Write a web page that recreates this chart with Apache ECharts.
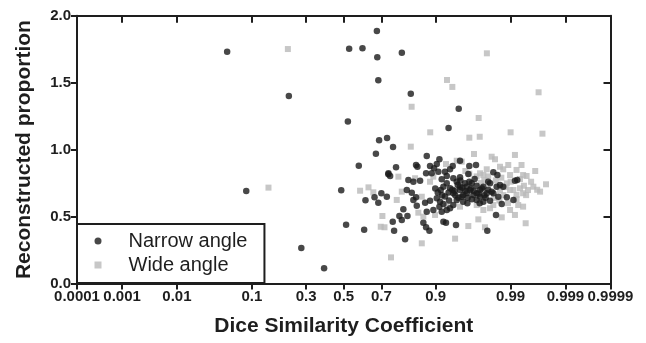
<!DOCTYPE html>
<html>
<head>
<meta charset="utf-8">
<script src="https://cdn.jsdelivr.net/npm/echarts@6/dist/echarts.min.js"></script>
<style>
  html, body { margin: 0; padding: 0; background: #fff; }
  #chart { width: 646px; height: 343px; }
</style>
</head>
<body>
<div id="chart"></div>
<script>
// Probability-scale tick marks on the Dice axis
const diceTicks = [0.0001, 0.001, 0.01, 0.1, 0.3, 0.5, 0.7, 0.9, 0.99, 0.999, 0.9999];
const diceTickLabels = ['0.0001', '0.001', '0.01', '0.1', '0.3', '0.5', '0.7', '0.9', '0.99', '0.999', '0.9999'];
const ratioTicks = [0, 0.5, 1.0, 1.5, 2.0];

// [Dice similarity coefficient, reconstructed proportion]
const narrowAngle = [
  [0.052,1.73],[0.087,0.69],[0.222,1.40],[0.277,0.265],[0.392,0.113],[0.486,0.696],[0.513,0.439],
  [0.523,1.21],[0.530,1.754],[0.583,0.88],[0.603,1.756],[0.612,0.402],[0.619,0.621],[0.666,0.644],
  [0.673,0.969],[0.678,1.886],[0.680,1.689],[0.685,1.517],[0.685,0.603],[0.689,1.069],[0.700,0.674],
  [0.726,0.648],[0.727,1.087],[0.733,0.816],[0.754,1.019],[0.791,1.724],[0.825,1.418],[0.928,1.161],
  [0.9455,1.305],
  [0.8764,0.952],[0.9088,0.928],[0.9027,0.892],[0.8433,0.885],[0.8478,0.872],[0.8855,0.877],[0.896,0.860],
  [0.767,0.868],[0.7334,0.823],[0.741,0.803],[0.8745,0.823],[0.890,0.823],[0.9064,0.835],[0.921,0.835],
  [0.9308,0.853],[0.9356,0.877],[0.9475,0.917],[0.960,0.877],[0.9674,0.885],[0.9815,0.830],[0.9839,0.810],
  [0.9588,0.818],[0.9367,0.786],[0.9475,0.793],[0.9245,0.803],[0.914,0.778],[0.8162,0.773],[0.8342,0.760],
  [0.8564,0.768],[0.8103,0.698],[0.8285,0.678],[0.8433,0.644],[0.8342,0.624],[0.8716,0.603],[0.8855,0.618],
  [0.8457,0.581],[0.9027,0.636],[0.9103,0.611],[0.9176,0.594],[0.9088,0.574],[0.9245,0.549],[0.9308,0.562],
  [0.914,0.536],[0.8764,0.536],[0.8942,0.549],[0.797,0.554],[0.781,0.504],[0.7908,0.474],[0.8127,0.504],
  [0.7527,0.462],[0.7587,0.394],[0.8038,0.330],[0.8665,0.454],[0.8745,0.420],[0.8838,0.394],[0.9176,0.462],
  [0.923,0.454],[0.9412,0.437],[0.9773,0.394],[0.9831,0.512],[0.9862,0.594],[0.9885,0.644],[0.991,0.624],
  [0.9915,0.768],[0.9922,0.773],[0.9853,0.736],[0.9793,0.748],[0.9742,0.723],[0.9681,0.674],[0.9713,0.698],
  [0.9608,0.698],[0.9546,0.748],[0.9475,0.723],[0.9424,0.760],[0.9576,0.599],[0.9681,0.624],[0.9793,0.618],
  [0.9769,0.674],[0.9713,0.648],[0.9646,0.661],[0.9522,0.661],[0.9475,0.698],[0.9367,0.674],[0.9308,0.711],
  [0.9245,0.748],[0.9176,0.723],[0.9118,0.698],[0.9424,0.624],[0.9367,0.586],[0.95,0.648],[0.9567,0.723],
  [0.9628,0.748],[0.9835,0.723],[0.9869,0.723],[0.9815,0.674],[0.9742,0.611],[0.9844,0.648],[0.9804,0.686],
  [0.935,0.70],[0.940,0.66],[0.945,0.64],[0.955,0.69],[0.958,0.64],[0.962,0.71],[0.965,0.69],[0.968,0.73],
  [0.970,0.67],[0.973,0.71],[0.975,0.66],[0.978,0.70],[0.957,0.675],[0.951,0.715],[0.944,0.735],[0.939,0.69],
  [0.928,0.68],[0.921,0.65],[0.929,0.62],[0.952,0.61],[0.963,0.63],[0.976,0.64],[0.971,0.60],[0.960,0.76],
  [0.966,0.78],[0.978,0.76],[0.948,0.77],[0.915,0.66],[0.905,0.68],[0.899,0.71]
];

const wideAngle = [
  [0.147,0.716],[0.218,1.751],[0.590,0.693],[0.635,0.718],[0.660,0.681],[0.697,0.424],[0.705,0.504],
  [0.715,0.42],[0.745,0.195],[0.825,1.022],[0.828,1.32],[0.886,1.129],[0.925,1.52],[0.935,1.468],
  [0.960,1.089],[0.970,1.236],[0.971,1.096],[0.977,1.719],[0.990,1.129],[0.9967,1.428],[0.9972,1.119],
  [0.9653,0.967],[0.9804,0.947],[0.9825,0.928],[0.9915,0.960],[0.9934,0.885],[0.9891,0.885],[0.9853,0.872],
  [0.9869,0.853],[0.9424,0.917],[0.95,0.910],[0.923,0.892],[0.9962,0.840],[0.9946,0.803],[0.9938,0.810],
  [0.9976,0.741],[0.9969,0.686],[0.9959,0.723],[0.9949,0.698],[0.9938,0.674],[0.992,0.661],[0.993,0.711],
  [0.991,0.698],[0.9898,0.698],[0.9885,0.748],[0.9898,0.810],[0.992,0.848],[0.9769,0.853],[0.9742,0.810],
  [0.9713,0.823],[0.777,0.798],[0.840,0.786],[0.8855,0.760],[0.8942,0.798],[0.7908,0.686],[0.770,0.624],
  [0.8617,0.648],[0.8508,0.529],[0.8665,0.499],[0.8985,0.512],[0.9245,0.579],[0.9475,0.574],[0.9681,0.586],
  [0.9742,0.549],[0.9793,0.562],[0.9898,0.549],[0.9915,0.512],[0.9938,0.574],[0.9925,0.586],[0.9944,0.450],
  [0.9862,0.494],[0.9697,0.479],[0.9588,0.429],[0.9755,0.420],[0.9397,0.335],[0.8617,0.300],[0.9815,0.586],
  [0.9853,0.698],
  [0.978,0.80],[0.983,0.77],[0.986,0.79],[0.988,0.72],[0.982,0.64],[0.985,0.62],[0.987,0.66],[0.975,0.77],
  [0.972,0.75],[0.968,0.80],[0.990,0.76],[0.993,0.78],[0.994,0.73],[0.992,0.63],[0.989,0.60],[0.9955,0.76],
  [0.9965,0.70],[0.9945,0.66],[0.960,0.82],[0.955,0.84]
];

// Inverse standard normal CDF (Acklam's rational approximation)
function probit(p) {
  const a = [-3.969683028665376e+01, 2.209460984245205e+02, -2.759285104469687e+02, 1.383577518672690e+02, -3.066479806614716e+01, 2.506628277459239e+00];
  const b = [-5.447609879822406e+01, 1.615858368580409e+02, -1.556989798598866e+02, 6.680131188771972e+01, -1.328068155288572e+01];
  const c = [-7.784894002430293e-03, -3.223964580411365e-01, -2.400758277161838e+00, -2.549732539343734e+00, 4.374664141464968e+00, 2.938163982698783e+00];
  const d = [7.784695709041462e-03, 3.224671290700398e-01, 2.445134137142996e+00, 3.754408661907416e+00];
  const pl = 0.02425, ph = 1 - pl;
  let q, r;
  if (p < pl) {
    q = Math.sqrt(-2 * Math.log(p));
    return (((((c[0]*q+c[1])*q+c[2])*q+c[3])*q+c[4])*q+c[5]) / ((((d[0]*q+d[1])*q+d[2])*q+d[3])*q+1);
  }
  if (p <= ph) {
    q = p - 0.5; r = q * q;
    return (((((a[0]*r+a[1])*r+a[2])*r+a[3])*r+a[4])*r+a[5])*q / (((((b[0]*r+b[1])*r+b[2])*r+b[3])*r+b[4])*r+1);
  }
  q = Math.sqrt(-2 * Math.log(1 - p));
  return -(((((c[0]*q+c[1])*q+c[2])*q+c[3])*q+c[4])*q+c[5]) / ((((d[0]*q+d[1])*q+d[2])*q+d[3])*q+1);
}

const tickPos = diceTicks.map(probit);
const toProbit = pts => pts.map(([dice, ratio]) => [probit(dice), ratio]);
function tickLabel(v) {
  let best = 0;
  tickPos.forEach((t, i) => { if (Math.abs(t - v) < Math.abs(tickPos[best] - v)) best = i; });
  return diceTickLabels[best];
}

const FONT = '"Liberation Sans", Arial, Helvetica, sans-serif';
const INK = '#1e1e1e';
const lineStyle = { color: INK, width: 2 };

const chart = echarts.init(document.getElementById('chart'), null, { renderer: 'canvas' });
chart.setOption({
  animation: false,
  backgroundColor: '#fff',
  grid: { left: 77, right: 35.5, top: 15.7, bottom: 59.5, containLabel: false },
  xAxis: [
    {
      type: 'value', position: 'bottom',
      min: tickPos[0], max: tickPos[tickPos.length - 1],
      name: 'Dice Similarity Coefficient', nameLocation: 'middle', nameGap: 32,
      nameTextStyle: { fontFamily: FONT, fontWeight: 'bold', fontSize: 21, color: INK },
      axisLine: { show: true, onZero: false, lineStyle },
      axisTick: { show: true, inside: false, length: 6, lineStyle, customValues: tickPos },
      axisLabel: {
        show: true, customValues: tickPos, formatter: tickLabel, margin: 6,
        fontFamily: FONT, fontWeight: 'bold', fontSize: 15, color: INK,
        hideOverlap: false, showMinLabel: true, showMaxLabel: true
      },
      splitLine: { show: false }
    },
    {
      type: 'value', position: 'top',
      min: tickPos[0], max: tickPos[tickPos.length - 1],
      axisLine: { show: true, onZero: false, lineStyle },
      axisTick: { show: true, inside: true, length: 7, lineStyle, customValues: tickPos },
      axisLabel: { show: false },
      splitLine: { show: false }
    }
  ],
  yAxis: [
    {
      type: 'value', position: 'left', min: ratioTicks[0], max: ratioTicks[ratioTicks.length - 1], interval: 0.5,
      name: 'Reconstructed proportion', nameLocation: 'middle', nameGap: 42,
      nameTextStyle: { fontFamily: FONT, fontWeight: 'bold', fontSize: 21, color: INK },
      axisLine: { show: true, onZero: false, lineStyle },
      axisTick: { show: true, inside: false, length: 6, lineStyle },
      axisLabel: {
        show: true, margin: 6, formatter: v => v.toFixed(1),
        fontFamily: FONT, fontWeight: 'bold', fontSize: 15, color: INK
      },
      splitLine: { show: false }
    },
    {
      type: 'value', position: 'right', min: ratioTicks[0], max: ratioTicks[ratioTicks.length - 1], interval: 0.5,
      axisLine: { show: true, onZero: false, lineStyle },
      axisTick: { show: true, inside: true, length: 7, lineStyle },
      axisLabel: { show: false },
      splitLine: { show: false }
    }
  ],
  legend: {
    orient: 'vertical', left: 77, top: 224,
    data: ['Narrow angle', 'Wide angle'],
    itemWidth: 7, itemHeight: 7, itemGap: 0,
    padding: [5, 17, 6, 17.5],
    backgroundColor: '#fff', borderColor: INK, borderWidth: 2,
    textStyle: { fontFamily: FONT, fontSize: 20, color: INK, lineHeight: 24, padding: [0, 0, 0, 22] }
  },
  series: [
    {
      name: 'Wide angle', type: 'scatter', symbol: 'rect', symbolSize: 6,
      itemStyle: { color: '#b9b9b9' },
      data: toProbit(wideAngle), z: 2
    },
    {
      name: 'Narrow angle', type: 'scatter', symbol: 'circle', symbolSize: 6.5,
      itemStyle: { color: '#1a1a1a' },
      data: toProbit(narrowAngle), z: 3
    }
  ]
});
</script>
</body>
</html>
